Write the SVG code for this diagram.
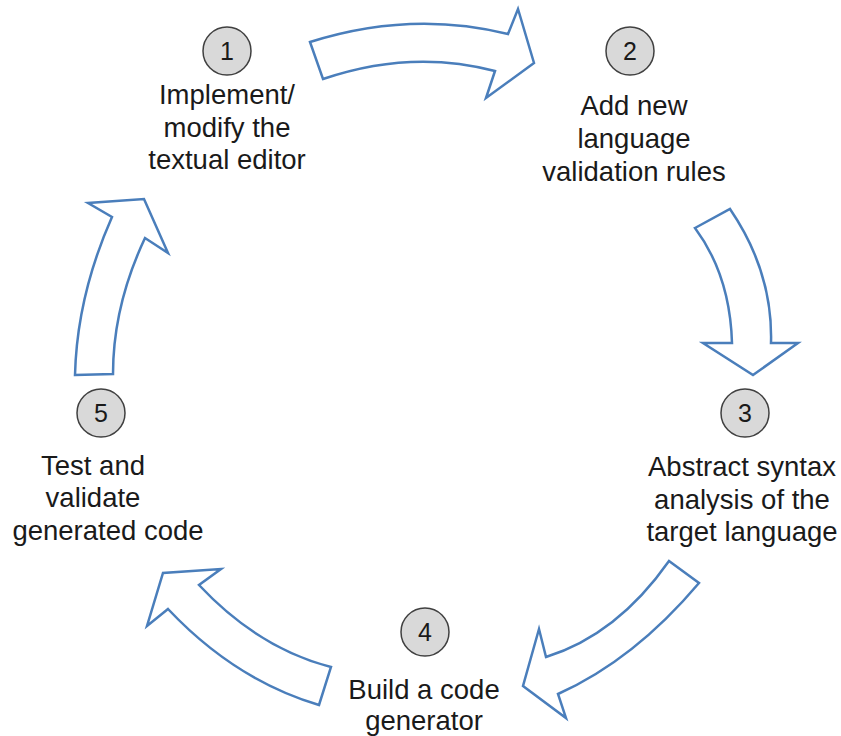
<svg xmlns="http://www.w3.org/2000/svg" width="841" height="736" viewBox="0 0 841 736">
<style>
.arrow{fill:#ffffff;stroke:#4a7ebb;stroke-width:2.5;stroke-linejoin:miter}
.badge{fill:#d9d9d9;stroke:#404040;stroke-width:1.5}
.num{font-family:"Liberation Sans",Arial,sans-serif;font-size:25px;fill:#1a1a1a;text-anchor:middle}
.lbl{font-family:"Liberation Sans",Arial,sans-serif;font-size:27.5px;fill:#1a1a1a;text-anchor:middle}
</style>
<rect width="841" height="736" fill="#ffffff"/>
<g id="connectors">
<path class="arrow" d="M310,42 Q411,10 508,34 L518,9 L534,63 L486,98 L495,71 Q411,49 323,79 Z"/>
<path class="arrow" d="M695,228 L730,209 Q773,272 771,343 L798,343 L753,375 L703,343 L732,343 Q730,275 695,228 Z"/>
<path class="arrow" d="M669,561 L699,583 Q634,660 558,694 L566,718 L523,686 L539,629 L546,657 Q617,635 669,561 Z"/>
<path class="arrow" d="M319,705 L331,667 Q258,648 199,585 L221,569 L163,573 L147,626 L168,609 Q235,680 319,705 Z"/>
<path class="arrow" d="M75,375 L113,374 Q113,306 145,238 L168,253 L144,199 L88,203 L112,217 Q77,296 75,375 Z"/>
</g>
<g id="node1">
<circle class="badge" cx="227" cy="51" r="24"/>
<text class="num" x="227" y="60">1</text>
<text class="lbl" x="227" y="104">Implement/</text>
<text class="lbl" x="227" y="137">modify the</text>
<text class="lbl" x="227" y="169">textual editor</text>
</g>
<g id="node2">
<circle class="badge" cx="630" cy="51" r="24"/>
<text class="num" x="630" y="60">2</text>
<text class="lbl" x="634" y="115">Add new</text>
<text class="lbl" x="634" y="148">language</text>
<text class="lbl" x="634" y="181">validation rules</text>
</g>
<g id="node3">
<circle class="badge" cx="745" cy="413" r="24"/>
<text class="num" x="745" y="422">3</text>
<text class="lbl" x="742" y="476">Abstract syntax</text>
<text class="lbl" x="742" y="509">analysis of the</text>
<text class="lbl" x="742" y="541">target language</text>
</g>
<g id="node4">
<circle class="badge" cx="425" cy="632" r="24"/>
<text class="num" x="425" y="641">4</text>
<text class="lbl" x="424" y="699">Build a code</text>
<text class="lbl" x="424" y="730">generator</text>
</g>
<g id="node5">
<circle class="badge" cx="101" cy="413" r="24"/>
<text class="num" x="101" y="422">5</text>
<text class="lbl" x="93" y="475">Test and</text>
<text class="lbl" x="93" y="507">validate</text>
<text class="lbl" x="108" y="540">generated code</text>
</g>
</svg>
